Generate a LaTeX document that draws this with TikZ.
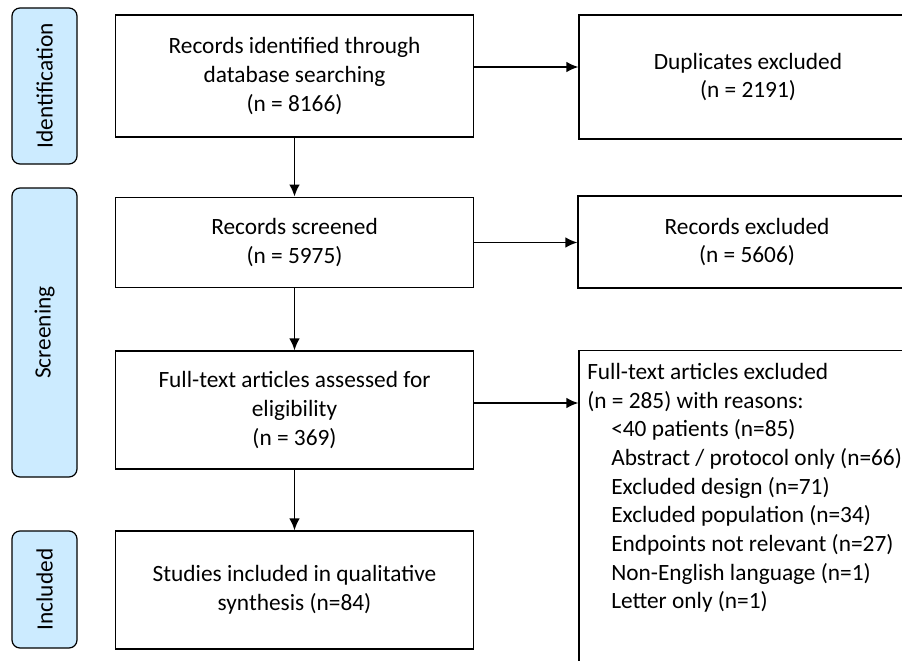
\documentclass[tikz,border=0pt]{standalone}
\usepackage{fontspec}
\setmainfont{Carlito}
\usetikzlibrary{shapes, arrows.meta, positioning}
\definecolor{PhaseBlue}{HTML}{CCEBFF}

\begin{document}
\begin{tikzpicture} [
			x=0.75pt, y=-0.75pt,
			every node/.style={align=center, font=\fontsize{17.5}{21.5}\selectfont},
			phase/.style={draw, rounded corners=6pt, fill=PhaseBlue, rotate=90, minimum height=48.75pt, line width=0.9pt},
			box/.style={draw, rectangle, minimum width=269pt, line width=0.9pt},
			outbox/.style={draw, rectangle, minimum width=253.5pt, line width=0.9pt},
			flow/.style={draw, line width=1.3pt, -{Latex[length=9pt,width=8pt]}}
		]
			\useasboundingbox (0,0) rectangle (902,660);
			\clip (0,0) rectangle (902,660);
			\node at (44.5,86) [phase, minimum width=117pt] (ident) {Identification};
			\node at (44.5,332.5) [phase, minimum width=216.75pt] (screen) {Screening};
			\node at (44.5,589.5) [phase, minimum width=87.75pt] (incl) {Included};
			\node at (294.5,76) [box, minimum height=91.5pt] (records) {Records identified through \\ database searching \\ (n = 8166)};
			\node at (294.5,242.5) [box, minimum height=68pt] (screened) {Records screened \\ (n = 5975)};
			\node at (294.5,410) [box, minimum height=88.5pt] (fulltext) {Full-text articles assessed for \\ eligibility \\ (n = 369)};
			\node at (294.5,590) [box, minimum height=88.5pt] (studies) {Studies included in qualitative \\ synthesis (n=84)};
			\node at (748,77) [outbox, minimum height=93pt] (dupl) {Duplicates excluded \\ (n = 2191)};
			\node at (747,242) [outbox, minimum height=69pt] (recexcl) {Records excluded \\ (n = 5606)};
			\node at (748,525.5) [outbox, minimum height=262pt] (ftexcl) {};
			\node at (587,363) [anchor=north west, align=left, inner sep=0pt] (reasons) {Full-text articles excluded \\ (n = 285) with reasons: \\
				\hspace*{18pt}<40 patients (n=85) \\
				\hspace*{18pt}Abstract / protocol only (n=66) \\
				\hspace*{18pt}Excluded design (n=71) \\
				\hspace*{18pt}Excluded population (n=34) \\
				\hspace*{18pt}Endpoints not relevant (n=27) \\
				\hspace*{18pt}Non-English language (n=1) \\
				\hspace*{18pt}Letter only (n=1)};
			\path[flow] (records) -- (screened);
			\path[flow] (screened) -- (fulltext);
			\path[flow] (fulltext) -- (studies);
			\path[flow] ([yshift=6.75pt]records.east) -- ([yshift=6.75pt]records.east -| dupl.west);
			\path[flow] (screened.east) -- (screened.east -| recexcl.west);
			\path[flow] ([yshift=5.25pt]fulltext.east) -- ([yshift=5.25pt]fulltext.east -| ftexcl.west);
		\end{tikzpicture}
\end{document}
